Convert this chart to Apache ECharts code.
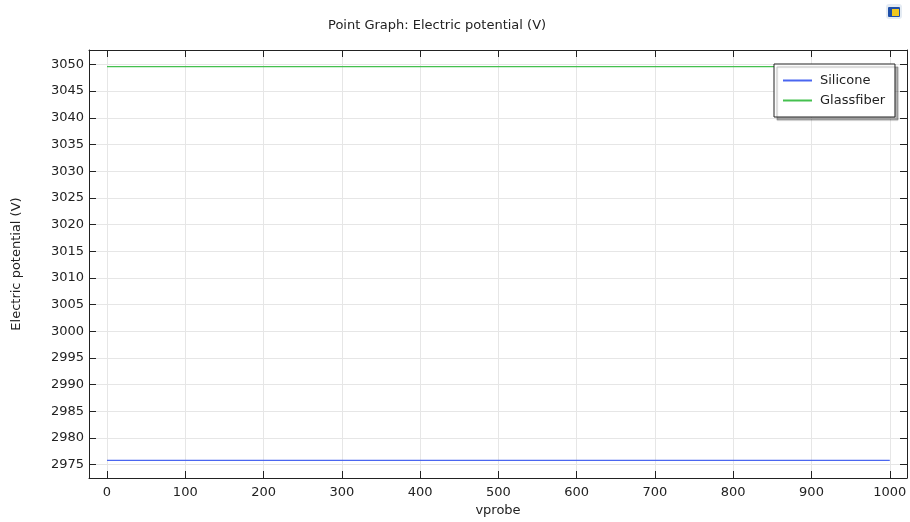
<!DOCTYPE html>
<html>
<head>
<meta charset="utf-8">
<script src="https://cdn.jsdelivr.net/npm/echarts@6/dist/echarts.min.js"></script>
<style>html,body{margin:0;padding:0;background:#fff}#c{width:910px;height:522px}</style>
</head>
<body>
<div id="c"></div>
<script>
var xTicks = [0, 100, 200, 300, 400, 500, 600, 700, 800, 900, 1000];
var yTicks = [2975, 2980, 2985, 2990, 2995, 3000, 3005, 3010, 3015, 3020, 3025, 3030, 3035, 3040, 3045, 3050];
var vprobe = [0, 100, 200, 300, 400, 500, 600, 700, 800, 900, 1000];
var silicone = [2975.8, 2975.8, 2975.8, 2975.8, 2975.8, 2975.8, 2975.8, 2975.8, 2975.8, 2975.8, 2975.8];
var glassfiber = [3049.6, 3049.6, 3049.6, 3049.6, 3049.6, 3049.6, 3049.6, 3049.6, 3049.6, 3049.6, 3049.6];

var FONT = 'DejaVu Sans';
var xMin = -23, xMax = 1022, yMin = 2972.5, yMax = 3052.7;

function pairs(xs, ys) { return xs.map(function (x, i) { return [x, ys[i]]; }); }
function plain(v) { return String(v); }

var chart = echarts.init(document.getElementById('c'), null, { renderer: 'canvas' });
var axisLineStyle = { color: '#222', width: 1 };
chart.setOption({
  animation: false,
  backgroundColor: '#fff',
  textStyle: { fontFamily: FONT },
  title: {
    text: 'Point Graph: Electric potential (V)',
    left: 323, top: 14,
    textStyle: { fontFamily: FONT, fontSize: 13, fontWeight: 'normal', color: '#222' }
  },
  legend: {
    left: 774, top: 64,
    orient: 'vertical',
    padding: [10, 10, 10, 9],
    itemGap: 7,
    itemWidth: 29, itemHeight: 2,
    icon: 'rect',
    backgroundColor: '#fff',
    borderColor: '#222', borderWidth: 1,
    shadowColor: 'rgba(0,0,0,0.3)', shadowBlur: 1, shadowOffsetX: 3, shadowOffsetY: 3,
    textStyle: { fontFamily: FONT, fontSize: 13, color: '#222', padding: [0, 0, 0, 3] },
    data: ['Silicone', 'Glassfiber']
  },
  grid: { left: 89, right: 3, top: 50, bottom: 43, containLabel: false, show: false },
  xAxis: [{
    type: 'value', min: xMin, max: xMax, position: 'bottom',
    name: 'vprobe', nameLocation: 'middle', nameGap: 26,
    nameTextStyle: { fontFamily: FONT, fontSize: 13, color: '#222' },
    axisLine: { show: true, onZero: false, lineStyle: axisLineStyle },
    axisTick: { show: true, inside: true, length: 7, customValues: xTicks, lineStyle: axisLineStyle },
    axisLabel: { customValues: xTicks, formatter: plain, margin: 8, fontFamily: FONT, fontSize: 13, color: '#222' },
    splitLine: { show: true, lineStyle: { color: '#e6e6e6', width: 1 } }
  }, {
    type: 'value', min: xMin, max: xMax, position: 'top',
    axisLine: { show: true, onZero: false, lineStyle: axisLineStyle },
    axisTick: { show: true, inside: true, length: 7, customValues: xTicks, lineStyle: axisLineStyle },
    axisLabel: { show: false, customValues: xTicks },
    splitLine: { show: false }
  }],
  yAxis: [{
    type: 'value', min: yMin, max: yMax, position: 'left',
    name: 'Electric potential (V)', nameLocation: 'middle', nameGap: 66,
    nameTextStyle: { fontFamily: FONT, fontSize: 13, color: '#222' },
    axisLine: { show: true, onZero: false, lineStyle: axisLineStyle },
    axisTick: { show: true, inside: true, length: 7, customValues: yTicks, lineStyle: axisLineStyle },
    axisLabel: { customValues: yTicks, formatter: plain, margin: 5, fontFamily: FONT, fontSize: 13, color: '#222' },
    splitLine: { show: true, lineStyle: { color: '#e6e6e6', width: 1 } }
  }, {
    type: 'value', min: yMin, max: yMax, position: 'right',
    axisLine: { show: true, onZero: false, lineStyle: axisLineStyle },
    axisTick: { show: true, inside: true, length: 7, customValues: yTicks, lineStyle: axisLineStyle },
    axisLabel: { show: false, customValues: yTicks },
    splitLine: { show: false }
  }],
  series: [{
    name: 'Silicone', type: 'line', xAxisIndex: 0, yAxisIndex: 0,
    data: pairs(vprobe, silicone), showSymbol: false, symbol: 'none',
    lineStyle: { color: '#4a66f0', width: 1.3 }, itemStyle: { color: '#4a66f0' }
  }, {
    name: 'Glassfiber', type: 'line', xAxisIndex: 0, yAxisIndex: 0,
    data: pairs(vprobe, glassfiber), showSymbol: false, symbol: 'none',
    lineStyle: { color: '#45c04f', width: 1.3 }, itemStyle: { color: '#45c04f' }
  }],
  graphic: [{
    type: 'group', left: 886, top: 4,
    children: [
      { type: 'rect', shape: { x: 0, y: 0, width: 16, height: 15, r: 3 }, style: { fill: '#e4ebf3' } },
      { type: 'rect', shape: { x: 2, y: 3, width: 12, height: 10, r: 1 }, style: { fill: '#1f4fa8' } },
      { type: 'rect', shape: { x: 6, y: 5, width: 7, height: 7 }, style: { fill: '#f2c81e' } }
    ]
  }]
});
</script>
</body>
</html>
